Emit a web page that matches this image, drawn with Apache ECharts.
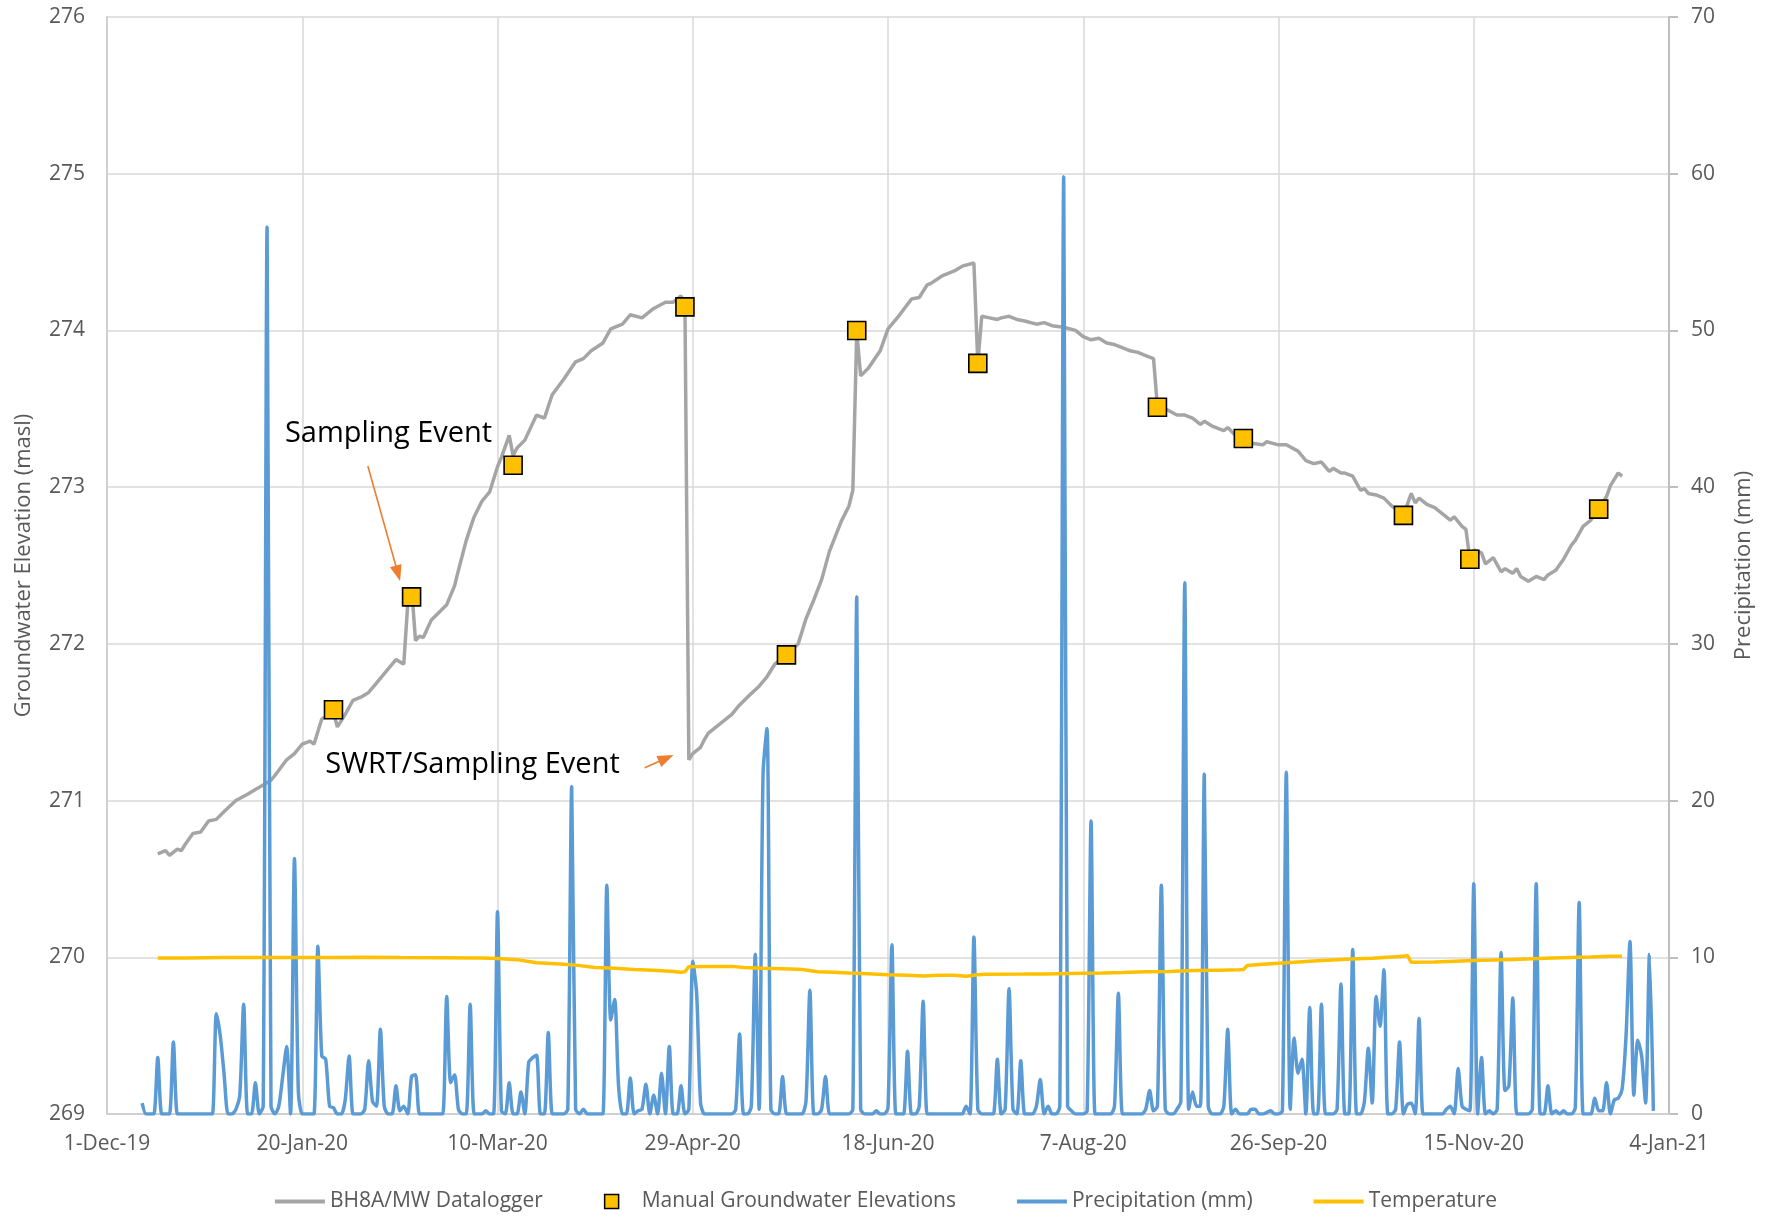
<!DOCTYPE html>
<html>
<head>
<meta charset="utf-8">
<title>BH8A/MW Groundwater Elevations</title>
<script src="https://cdn.jsdelivr.net/npm/echarts@6/dist/echarts.min.js"></script>
<style>
  html, body { margin: 0; padding: 0; background: #ffffff; }
  #chart { width: 1772px; height: 1217px; }
</style>
</head>
<body>
<div id="chart"></div>
<script>
// Day numbers are counted from 1-Dec-2019 (day 0).
const AXIS_START_DAY = 0;
const AXIS_END_DAY = 400;
const AXIS_STEP_DAYS = 50;
const MONTHS = ['Jan', 'Feb', 'Mar', 'Apr', 'May', 'Jun', 'Jul', 'Aug', 'Sep', 'Oct', 'Nov', 'Dec'];

// Datalogger groundwater elevation (masl): [day, elevation]
const loggerLevels = [
  [13, 270.66], [15, 270.68], [16, 270.65], [18, 270.69], [19, 270.68], [20, 270.72], [22, 270.79],
  [24, 270.80], [26, 270.87], [28, 270.88], [30, 270.93], [33, 271.00], [36, 271.04], [38, 271.07],
  [40, 271.10], [42, 271.13], [43, 271.16], [46, 271.26], [48, 271.30], [50, 271.36], [52, 271.38],
  [53, 271.36], [55, 271.52], [58, 271.56], [59, 271.47], [61, 271.55], [63, 271.64], [65, 271.66],
  [67, 271.69], [69, 271.75], [71, 271.81], [74, 271.90], [76, 271.87], [77, 272.25], [78, 272.36],
  [79, 272.02], [80, 272.05], [81, 272.04], [83, 272.15], [87, 272.25], [89, 272.37], [90, 272.47],
  [92, 272.66], [94, 272.81], [96, 272.91], [98, 272.97], [100, 273.13], [101, 273.19], [103, 273.33],
  [104, 273.20], [105, 273.25], [107, 273.30], [110, 273.46], [112, 273.44], [114, 273.59], [117, 273.69],
  [120, 273.80], [122, 273.82], [124, 273.87], [127, 273.92], [129, 274.01], [132, 274.04], [134, 274.10],
  [137, 274.08], [140, 274.14], [143, 274.18], [145, 274.18], [147, 274.22], [148, 274.16], [149, 271.26],
  [150, 271.30], [152, 271.34], [153, 271.39], [154, 271.43], [156, 271.47], [158, 271.51], [160, 271.55],
  [162, 271.61], [164, 271.66], [167, 271.73], [169, 271.79], [171, 271.87], [174, 271.93], [177, 272.00],
  [179, 272.16], [181, 272.28], [183, 272.41], [185, 272.59], [188, 272.78], [190, 272.88], [191, 272.98],
  [192, 273.99], [193, 273.71], [195, 273.76], [198, 273.87], [200, 274.01], [203, 274.10], [206, 274.20],
  [208, 274.21], [210, 274.29], [211, 274.30], [214, 274.35], [217, 274.38], [219, 274.41], [222, 274.43],
  [223, 273.79], [224, 274.09], [226, 274.08], [228, 274.07], [229, 274.08], [231, 274.09], [233, 274.07],
  [235, 274.06], [238, 274.04], [240, 274.05], [242, 274.03], [245, 274.02], [248, 274.00], [250, 273.96],
  [252, 273.94], [254, 273.95], [256, 273.92], [258, 273.91], [260, 273.89], [262, 273.87], [264, 273.86],
  [266, 273.84], [268, 273.82], [269, 273.51], [271, 273.50], [274, 273.46], [276, 273.46], [278, 273.44],
  [280, 273.40], [281, 273.42], [283, 273.39], [286, 273.36], [287, 273.38], [289, 273.33], [291, 273.31],
  [293, 273.28], [296, 273.27], [297, 273.29], [300, 273.27], [302, 273.27], [305, 273.23], [307, 273.17],
  [309, 273.15], [311, 273.16], [313, 273.10], [314, 273.12], [316, 273.09], [317, 273.09], [319, 273.07],
  [321, 272.98], [322, 272.99], [323, 272.96], [325, 272.95], [327, 272.93], [329, 272.88], [332, 272.82],
  [333, 272.89], [334, 272.96], [335, 272.90], [336, 272.93], [338, 272.89], [340, 272.87], [342, 272.83],
  [344, 272.79], [345, 272.81], [347, 272.75], [348, 272.73], [349, 272.54], [350, 272.60], [352, 272.58],
  [353, 272.51], [355, 272.55], [357, 272.46], [358, 272.48], [360, 272.45], [361, 272.48], [362, 272.43],
  [364, 272.40], [366, 272.43], [368, 272.41], [369, 272.44], [371, 272.47], [373, 272.54], [375, 272.63],
  [376, 272.66], [378, 272.75], [380, 272.79], [382, 272.86], [384, 272.94], [385, 273.01], [387, 273.09],
  [388, 273.07]
];

// Manual groundwater elevations (masl): [day, elevation]
const manualLevels = [
  [58, 271.58], [78, 272.30], [104, 273.14], [148, 274.15], [174, 271.93], [192, 274.00],
  [223, 273.79], [269, 273.51], [291, 273.31], [332, 272.82], [349, 272.54], [382, 272.86]
];

// Daily precipitation (mm), first value is day 9 (10-Dec-2019)
const PRECIP_FIRST_DAY = 9;
const precipDaily = [
  0.7,
  0, 0, 0, 3.6, 0, 0, 0, 4.6, 0, 0,            // day 10
  0, 0, 0, 0, 0, 0, 0, 0, 6.4, 5.0,            // day 20
  2.5, 0, 0, 0.3, 1.2, 7.0, 0, 0, 2.0, 0,      // day 30
  0.5, 56.6, 0.5, 0, 0.5, 2.4, 4.3, 0, 16.3, 1.4, // day 40
  0, 0, 0, 0, 10.7, 3.7, 3.5, 0.5, 0.4, 0,     // day 50
  0, 0.9, 3.7, 0, 0, 0, 0.3, 3.4, 0.8, 0.5,    // day 60
  5.4, 0.5, 0, 0, 1.8, 0.2, 0.5, 0, 2.4, 2.5,  // day 70
  0, 0, 0, 0, 0, 0, 0, 7.5, 2.0, 2.5,          // day 80
  0.3, 0, 0, 7.0, 0, 0, 0, 0.2, 0, 0,          // day 90
  12.9, 0.2, 0, 2.0, 0, 0, 1.4, 0, 3.3, 3.6,   // day 100
  3.75, 0, 0, 5.2, 0, 0, 0, 0, 0.3, 20.9,      // day 110
  0.3, 0, 0.3, 0, 0, 0, 0, 0, 14.6, 6.0,       // day 120
  7.3, 1.8, 0, 0, 2.3, 0, 0.2, 0.3, 1.9, 0,    // day 130
  1.2, 0, 2.6, 0, 4.3, 0, 0, 1.8, 0, 0.3,      // day 140
  9.75, 7.7, 0.7, 0, 0, 0, 0, 0, 0, 0,         // day 150
  0, 0.3, 5.1, 0, 0, 0.5, 10.2, 0.3, 21.7, 24.6, // day 160
  0.3, 0, 0, 2.4, 0, 0, 0, 0, 0, 0.8,          // day 170
  7.9, 0, 0, 0.3, 2.4, 0, 0, 0, 0, 0,          // day 180
  0, 0.3, 33.0, 0.3, 0, 0, 0, 0.2, 0, 0,       // day 190
  0.4, 10.8, 0, 0, 0, 4.0, 0, 0, 0.5, 7.2,     // day 200
  0, 0, 0, 0, 0, 0, 0, 0, 0, 0,                // day 210
  0.5, 0, 11.3, 0.3, 0, 0, 0, 0, 3.5, 0,       // day 220
  0.3, 8.0, 0.3, 0, 3.4, 0, 0, 0, 0.5, 2.2,    // day 230
  0, 0.5, 0, 0, 0.5, 59.8, 0.5, 0.2, 0, 0,     // day 240
  0, 0.2, 18.7, 0, 0, 0, 0, 0, 0.5, 7.7,       // day 250
  0, 0, 0, 0, 0, 0, 0.3, 1.5, 0.2, 0.5,        // day 260
  14.6, 0.3, 0, 0, 0.3, 0.8, 33.9, 0.3, 1.4, 0.5, // day 270
  0.5, 21.7, 0.5, 0, 0, 0, 0.5, 5.4, 0, 0.3,   // day 280
  0, 0, 0, 0.3, 0.3, 0, 0, 0.1, 0.2, 0,        // day 290
  0, 0.2, 21.8, 0.3, 4.85, 2.6, 3.5, 0, 6.8, 0, // day 300
  0, 7.0, 0, 0, 0, 0.3, 8.3, 0, 0, 10.5,       // day 310
  0, 0, 0.8, 4.2, 0.7, 7.5, 5.6, 9.2, 0, 0,    // day 320
  0.3, 4.6, 0, 0.6, 0.7, 0, 6.1, 0, 0, 0,      // day 330
  0, 0, 0, 0.3, 0.5, 0, 2.9, 0.5, 0.3, 0.2,    // day 340
  14.7, 0, 3.6, 0, 0.2, 0, 0.3, 10.3, 1.5, 1.8, // day 350
  7.4, 0, 0, 0, 0, 0.3, 14.7, 0, 0, 1.8,       // day 360
  0, 0.2, 0, 0.2, 0, 0, 0.4, 13.5, 0, 0,       // day 370
  0, 1.0, 0.2, 0.2, 2.0, 0, 0.9, 1.0, 1.6, 5.0, // day 380
  11.0, 1.2, 4.7, 3.7, 0.7, 10.2, 0.2          // day 390
];

// Groundwater temperature: [day, degrees]
const temperature = [
  [13, 9.95], [20, 9.96], [30, 9.98], [40, 9.99], [50, 9.99], [60, 9.99], [65, 10.0], [75, 9.98],
  [85, 9.97], [96, 9.95], [100, 9.93], [105, 9.85], [110, 9.65], [115, 9.58], [120, 9.50], [125, 9.35],
  [130, 9.30], [135, 9.22], [140, 9.17], [145, 9.10], [147, 9.05], [148, 9.08], [149, 9.40], [155, 9.42],
  [160, 9.42], [163, 9.35], [168, 9.30], [175, 9.25], [178, 9.22], [182, 9.08], [186, 9.05], [190, 9.00],
  [195, 8.95], [200, 8.88], [205, 8.85], [209, 8.80], [213, 8.85], [217, 8.86], [220, 8.79], [223, 8.88],
  [225, 8.92], [235, 8.93], [240, 8.94], [250, 8.98], [255, 9.00], [260, 9.03], [266, 9.07], [272, 9.10],
  [278, 9.15], [285, 9.18], [290, 9.20], [291, 9.22], [292, 9.48], [296, 9.55], [300, 9.62], [305, 9.70],
  [310, 9.78], [315, 9.85], [320, 9.90], [324, 9.94], [328, 10.0], [332, 10.06], [333, 10.12], [334, 9.68],
  [340, 9.70], [345, 9.75], [350, 9.79], [355, 9.82], [360, 9.86], [365, 9.90], [370, 9.96], [375, 9.99],
  [380, 10.02], [385, 10.06], [388, 10.07]
];

// Annotation anchors in data units: [day, elevation]
const samplingLabelAt = [72.1, 273.34];
const swrtLabelAt = [93.6, 271.23];
const samplingArrow = [[66.8, 273.135], [74.5, 272.45]];
const swrtArrow = [[137.7, 271.21], [143.2, 271.27]];

const FONT = "'Open Sans', 'Noto Sans', sans-serif";
const LABEL_GREY = '#595959';
const GRID_GREY = '#D9D9D9';
const LINE_ICON = 'path://M0,0H50V4H0Z';
const SQUARE_ICON = 'path://M0,0H10V10H0Z';

function dayLabel(day) {
  const dt = new Date(Date.UTC(2019, 11, 1) + day * 86400000);
  return dt.getUTCDate() + '-' + MONTHS[dt.getUTCMonth()] + '-' + String(dt.getUTCFullYear()).slice(2);
}

const precipSeriesData = precipDaily.map((mm, i) => [PRECIP_FIRST_DAY + i, mm]);

const chart = echarts.init(document.getElementById('chart'), null, { renderer: 'canvas' });

const arrowStyle = { color: '#ED7D31', width: 1.6, type: 'solid' };
const annotationText = { color: '#000000', fontSize: 29, fontFamily: FONT };

chart.setOption({
  animation: false,
  backgroundColor: '#ffffff',
  textStyle: { fontFamily: FONT },
  grid: { left: 107, right: 103, top: 17, bottom: 103, containLabel: false },
  xAxis: {
    type: 'value',
    min: AXIS_START_DAY,
    max: AXIS_END_DAY,
    interval: AXIS_STEP_DAYS,
    axisLine: { show: true, lineStyle: { color: '#D0D0D0', width: 2 } },
    axisTick: { show: false },
    axisLabel: { color: LABEL_GREY, fontSize: 21, margin: 20, formatter: dayLabel },
    splitLine: { show: true, lineStyle: { color: GRID_GREY, width: 1.5 } }
  },
  yAxis: [
    {
      type: 'value',
      min: 269,
      max: 276,
      interval: 1,
      name: 'Groundwater Elevation (masl)',
      nameLocation: 'middle',
      nameGap: 72,
      nameRotate: 90,
      nameTextStyle: { color: LABEL_GREY, fontSize: 22 },
      axisLine: { show: true, lineStyle: { color: '#D0D0D0', width: 2 } },
      axisTick: { show: false },
      axisLabel: { color: LABEL_GREY, fontSize: 21, margin: 22 },
      splitLine: { show: true, lineStyle: { color: GRID_GREY, width: 1.5 } }
    },
    {
      type: 'value',
      min: 0,
      max: 70,
      interval: 10,
      position: 'right',
      name: 'Precipitation (mm)',
      nameLocation: 'middle',
      nameGap: 64,
      nameRotate: 90,
      nameTextStyle: { color: LABEL_GREY, fontSize: 22 },
      axisLine: { show: true, lineStyle: { color: '#BFBFBF', width: 2 } },
      axisTick: { show: true, inside: false, length: 9, lineStyle: { color: '#BFBFBF', width: 2 } },
      axisLabel: { color: LABEL_GREY, fontSize: 21, margin: 22 },
      splitLine: { show: false }
    }
  ],
  legend: {
    top: 1186,
    left: 'center',
    itemWidth: 50,
    itemHeight: 14,
    itemGap: 61,
    symbolKeepAspect: true,
    textStyle: { color: LABEL_GREY, fontSize: 21, fontFamily: FONT },
    data: [
      { name: 'BH8A/MW Datalogger', icon: LINE_ICON, itemStyle: { color: '#A5A5A5', borderWidth: 0 } },
      { name: 'Manual Groundwater Elevations', icon: SQUARE_ICON, itemStyle: { color: '#FFC000', borderColor: '#000000', borderWidth: 1.5 } },
      { name: 'Precipitation (mm)', icon: LINE_ICON, itemStyle: { color: '#5B9BD5', borderWidth: 0 } },
      { name: 'Temperature', icon: LINE_ICON, itemStyle: { color: '#FFC000', borderWidth: 0 } }
    ]
  },
  series: [
    {
      name: 'BH8A/MW Datalogger',
      type: 'line',
      yAxisIndex: 0,
      data: loggerLevels,
      showSymbol: false,
      symbol: 'none',
      lineStyle: { color: '#A5A5A5', width: 3.5 },
      itemStyle: { color: '#A5A5A5' },
      z: 2,
      markLine: {
        silent: true,
        animation: false,
        symbol: ['none', 'triangle'],
        symbolSize: [12, 16],
        lineStyle: arrowStyle,
        label: { show: false },
        data: [
          [{ coord: samplingArrow[0] }, { coord: samplingArrow[1] }],
          [{ coord: swrtArrow[0] }, { coord: swrtArrow[1] }]
        ]
      },
      markPoint: {
        silent: true,
        animation: false,
        symbol: 'rect',
        symbolSize: 1,
        itemStyle: { color: 'rgba(0,0,0,0)' },
        data: [
          { coord: samplingLabelAt, label: Object.assign({ show: true, position: 'inside', formatter: 'Sampling Event' }, annotationText) },
          { coord: swrtLabelAt, label: Object.assign({ show: true, position: 'inside', formatter: 'SWRT/Sampling Event' }, annotationText) }
        ]
      }
    },
    {
      name: 'Precipitation (mm)',
      type: 'line',
      yAxisIndex: 1,
      data: precipSeriesData,
      showSymbol: false,
      symbol: 'none',
      smooth: 0.25,
      lineStyle: { color: '#5B9BD5', width: 3.5 },
      itemStyle: { color: '#5B9BD5' },
      z: 3
    },
    {
      name: 'Temperature',
      type: 'line',
      yAxisIndex: 1,
      data: temperature,
      showSymbol: false,
      symbol: 'none',
      lineStyle: { color: '#FFC000', width: 3.5 },
      itemStyle: { color: '#FFC000' },
      z: 4
    },
    {
      name: 'Manual Groundwater Elevations',
      type: 'scatter',
      yAxisIndex: 0,
      data: manualLevels,
      symbol: 'rect',
      symbolSize: 18,
      itemStyle: { color: '#FFC000', borderColor: '#000000', borderWidth: 1.6, opacity: 1 },
      z: 5
    }
  ]
});
</script>
</body>
</html>
